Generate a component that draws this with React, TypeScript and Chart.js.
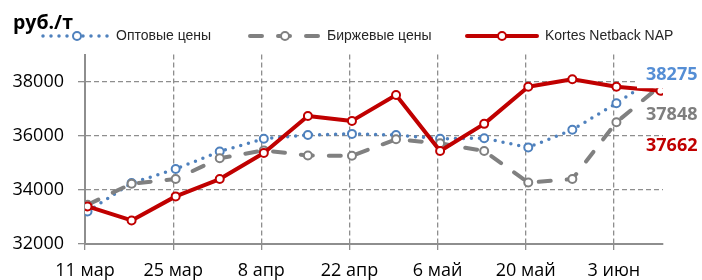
import React, { useEffect, useRef } from "react";
import { Chart, registerables } from "chart.js";

Chart.register(...registerables);

// ---- data ----
const weeks = ["11 мар", "18 мар", "25 мар", "1 апр", "8 апр", "15 апр", "22 апр", "29 апр", "6 май", "13 май", "20 май", "27 май", "3 июн", "10 июн"];
const tickLabels = ["11 мар", "25 мар", "8 апр", "22 апр", "6 май", "20 май", "3 июн"];
const optovye = [33200, 34250, 34770, 35420, 35890, 36030, 36070, 36030, 35890, 35910, 35570, 36220, 37200, 38275];
const birzhevye = [33450, 34230, 34400, 35170, 35460, 35270, 35260, 35870, 35720, 35440, 34270, 34400, 36500, 37848];
const kortes = [33390, 32870, 33760, 34400, 35360, 36730, 36550, 37510, 35440, 36440, 37810, 38090, 37810, 37662];
const seriesNames = ["Оптовые цены", "Биржевые цены", "Kortes Netback NAP"];
const yTicks = [32000, 34000, 36000, 38000];
const lastLabels = ["38275", "37848", "37662"];
const unitLabel = "руб./т";

const BLUE = "#4F81BD";
const BLUE_TXT = "#558ED5";
const GRAY = "#808080";
const RED = "#C00000";
const GRID = "#8E8E8E";

const X_MIN = -0.057;
const X_MAX = weeks.length - 1 + 0.057;

const toXY = (arr: number[]) => arr.map((v, i) => ({ x: i, y: v }));

const overlayPlugin = {
  id: "overlay",
  afterDatasetsDraw(chart: any) {
    const ctx = chart.ctx;
    const area = chart.chartArea;
    const ys = chart.scales.y;
    ctx.save();
    const colors = [BLUE_TXT, "#7F7F7F", RED];
    const offsets = [0, 40, 71];
    const baseY = ys.getPixelForValue(38275) + 1;
    ctx.font = "bold 18px 'Open Sans'";
    ctx.textAlign = "left";
    ctx.textBaseline = "middle";
    lastLabels.forEach((t, i) => {
      const y = baseY + offsets[i];
      if (i < 2) {
        ctx.fillStyle = "#fff";
        ctx.fillRect(area.right - 26, y - 13, chart.width - (area.right - 26), 26);
      }
      ctx.fillStyle = colors[i];
      ctx.fillText(t, area.right - 17, y);
    });
    ctx.restore();
  },
  afterDraw(chart: any) {
    const ctx = chart.ctx;
    ctx.save();
    ctx.fillStyle = "#000";
    ctx.font = "bold 19.5px 'Open Sans'";
    ctx.textAlign = "left";
    ctx.textBaseline = "alphabetic";
    ctx.fillText(unitLabel, 13, 29);

    const ly = 36;
    const items = [
      { x0: 43, x1: 110, mx: 77, tx: 116, color: BLUE, dash: [0, 8], w: 3.5 },
      { x0: 250, x1: 320, mx: 285, tx: 327, color: GRAY, dash: [12, 16], w: 4 },
      { x0: 467, x1: 537, mx: 502, tx: 545, color: RED, dash: [], w: 4 },
    ];
    items.forEach((it, i) => {
      ctx.beginPath();
      ctx.setLineDash(it.dash);
      ctx.lineCap = "round";
      ctx.lineWidth = it.w;
      ctx.strokeStyle = it.color;
      ctx.moveTo(it.x0, ly);
      ctx.lineTo(it.x1, ly);
      ctx.stroke();
      ctx.setLineDash([]);
      ctx.beginPath();
      ctx.arc(it.mx, ly, 4, 0, Math.PI * 2);
      ctx.fillStyle = "#fff";
      ctx.fill();
      ctx.lineWidth = 2;
      ctx.stroke();
      ctx.fillStyle = "#262626";
      ctx.font = "14px 'Liberation Sans'";
      ctx.textBaseline = "middle";
      ctx.fillText(seriesNames[i], it.tx, ly);
    });
    ctx.restore();
  },
};

export default function App() {
  const ref = useRef<HTMLCanvasElement | null>(null);

  useEffect(() => {
    if (!ref.current) return;
    const pointCommon = {
      pointRadius: 4,
      pointHoverRadius: 4,
      pointBorderWidth: 2,
      pointBackgroundColor: "#fff",
      tension: 0,
      fill: false,
    };
    const chart = new Chart(ref.current, {
      type: "line",
      data: {
        datasets: [
          {
            label: seriesNames[0],
            data: toXY(optovye),
            borderColor: BLUE,
            pointBorderColor: BLUE,
            borderWidth: 3.5,
            borderDash: [0, 8],
            borderCapStyle: "round",
            order: 3,
            ...pointCommon,
          },
          {
            label: seriesNames[1],
            data: toXY(birzhevye),
            borderColor: GRAY,
            pointBorderColor: GRAY,
            borderWidth: 4,
            borderDash: [12, 16],
            borderCapStyle: "round",
            order: 2,
            ...pointCommon,
          },
          {
            label: seriesNames[2],
            data: toXY(kortes),
            borderColor: RED,
            pointBorderColor: RED,
            borderWidth: 4,
            borderJoinStyle: "round",
            order: 1,
            ...pointCommon,
          },
        ],
      },
      options: {
        responsive: false,
        animation: false,
        events: [],
        layout: { padding: { left: 0, top: 54.6, right: 39, bottom: 0 } },
        plugins: {
          legend: { display: false },
          tooltip: { enabled: false },
          title: { display: false },
        },
        scales: {
          x: {
            type: "linear",
            min: X_MIN,
            max: X_MAX,
            bounds: "data",
            afterBuildTicks: (scale: any) => {
              scale.ticks = tickLabels.map((_, k) => ({ value: X_MIN + 2 * k }));
            },
            afterFit: (scale: any) => {
              scale.height = 36;
            },
            grid: {
              color: GRID,
              lineWidth: 1.3,
              tickLength: 6,
              tickColor: GRID,
              tickWidth: 1.3,
            },
            border: { display: true, color: GRID, width: 2, dash: [5, 3] },
            ticks: {
              autoSkip: false,
              maxRotation: 0,
              minRotation: 0,
              padding: 10,
              color: "#000",
              font: { family: "'Open Sans'", size: 18 },
              callback: (_v: any, i: number) => tickLabels[i],
            },
          },
          y: {
            type: "linear",
            min: 32000,
            max: 39000,
            bounds: "data",
            afterBuildTicks: (scale: any) => {
              scale.ticks = yTicks.map((v) => ({ value: v }));
            },
            afterFit: (scale: any) => {
              scale.width = 85;
            },
            grid: {
              color: GRID,
              lineWidth: 1.3,
              tickLength: 7,
              tickColor: GRID,
              tickWidth: 1.3,
            },
            border: { display: true, color: GRID, width: 2, dash: [5, 3] },
            ticks: {
              padding: 14,
              color: "#000",
              font: { family: "'Open Sans'", size: 18 },
              callback: (v: any) => String(v),
            },
          },
        },
      },
      plugins: [overlayPlugin],
    } as any);

    return () => chart.destroy();
  }, []);

  return (
    <div style={{ position: "fixed", left: 0, top: 0, width: 702, height: 280, background: "#fff" }}>
      <canvas ref={ref} width={702} height={280} style={{ display: "block", width: 702, height: 280 }} />
    </div>
  );
}
